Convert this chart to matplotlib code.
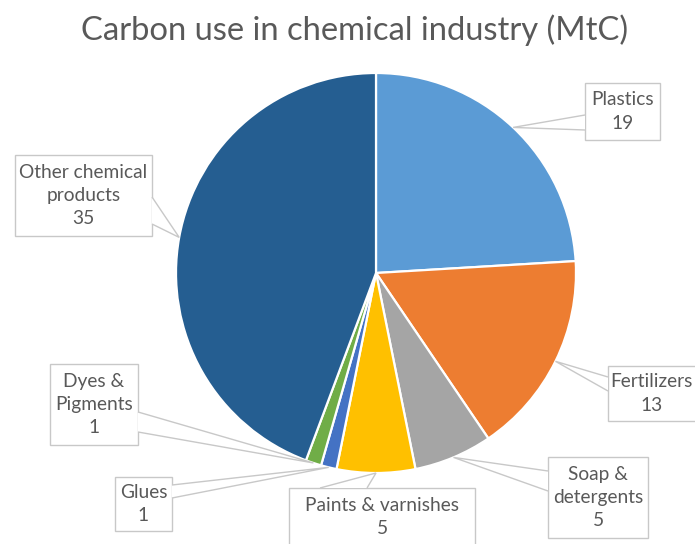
import numpy as np
import matplotlib.pyplot as plt
from matplotlib.patches import Rectangle, Polygon

# Data
categories = ['Plastics', 'Fertilizers', 'Soap &\ndetergents', 'Paints & varnishes',
              'Glues', 'Dyes &\nPigments', 'Other chemical\nproducts']
values = [19, 13, 5, 5, 1, 1, 35]
colors = ['#5B9BD5', '#ED7D31', '#A5A5A5', '#FFC000', '#4472C4', '#70AD47', '#255E91']

# Callout boxes in pixel coords: (left, top, right, bottom), and two base points of the pointer
boxes = [
    (585, 83, 660, 140),
    (608, 366, 700, 421),
    (548, 457, 648, 538),
    (289, 488, 475, 550),
    (115, 477, 172, 531),
    (50, 364, 138, 445),
    (15, 155, 152, 236),
]
bases = [
    [(585, 115), (585, 130)],
    [(608, 377), (608, 391)],
    [(548, 471), (548, 491)],
    [(320, 488), (367, 488)],
    [(172, 485), (172, 498)],
    [(138, 412), (138, 432)],
    [(152, 197), (152, 224)],
]

W, H = 695, 544
cx, cy, r = 376, 273, 200
text_color = '#595959'
edge_color = '#C8C8C8'

plt.rcParams['font.family'] = ['Lato', 'DejaVu Sans']

fig = plt.figure(figsize=(W / 100, H / 100), dpi=100)
ax = fig.add_axes([0, 0, 1, 1])

wedges, _ = ax.pie(values, colors=colors, startangle=90, counterclock=False,
                   center=(cx, H - cy), radius=r,
                   wedgeprops=dict(edgecolor='white', linewidth=1.6))

total = sum(values)
cum = np.cumsum([0] + values)
for i, (lab, v) in enumerate(zip(categories, values)):
    mid = (cum[i] + v / 2) / total * 2 * np.pi
    tip = (cx + r * np.sin(mid), H - (cy - r * np.cos(mid)))
    l, t, rt, b = boxes[i]
    ax.add_patch(Rectangle((l, H - b), rt - l, b - t, facecolor='white',
                           edgecolor=edge_color, linewidth=1.0, zorder=3))
    (x1, y1), (x2, y2) = bases[i]
    ax.add_patch(Polygon([(x1, H - y1), tip, (x2, H - y2)], closed=False,
                         facecolor='white', edgecolor=edge_color, linewidth=1.0, zorder=4))
    ty = (t + b) / 2 if i != 3 else (t + 544) / 2 + 1
    ax.text((l + min(rt, W)) / 2, H - ty,
            f'{lab}\n{v}', ha='center', va='center', fontsize=13.8,
            color=text_color, linespacing=1.45, zorder=5)

ax.text(W / 2 + 7, H - 30, 'Carbon use in chemical industry (MtC)', ha='center',
        va='center', fontsize=23.6, color=text_color)

ax.set_xlim(0, W)
ax.set_ylim(0, H)
ax.set_aspect('auto')
ax.axis('off')

fig.savefig('out.png', dpi=100, facecolor='white')
